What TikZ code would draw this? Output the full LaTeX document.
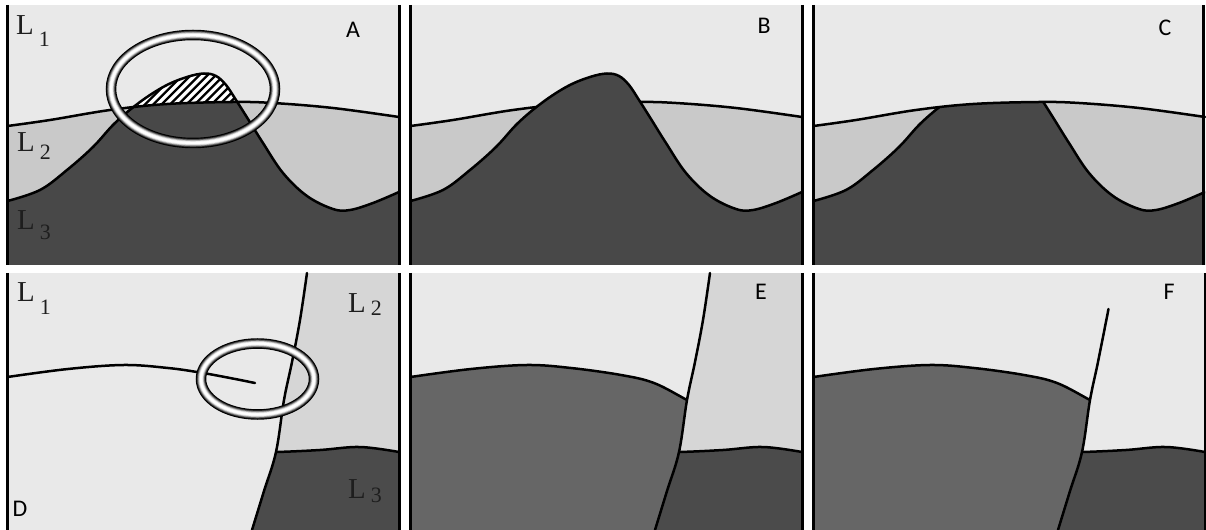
\documentclass[tikz,border=0pt]{standalone}
\usepackage{fontspec}
\setmainfont{Liberation Serif}
\newfontfamily\panelfont{Carlito}

\definecolor{upper}{HTML}{E9E9E9}
\definecolor{midtop}{HTML}{C9C9C9}
\definecolor{midbot}{HTML}{D6D6D6}
\definecolor{deep}{HTML}{484848}
\definecolor{deepbot}{HTML}{4B4B4B}
\definecolor{tilted}{HTML}{666666}
\definecolor{ink}{HTML}{1E1E1E}

% layer name with a lowered index
\newcommand\Lsub[2]{\fontsize{29}{29}\selectfont L\kern5bp\raisebox{-#2}{\fontsize{22}{22}\selectfont #1}}

% boundaries of the upper row (panel A frame)
\newcommand\pathUpper{plot[smooth,tension=0.6] coordinates {(7.5,126) (50,120) (110,110) (167,104) (233,102) (273,103) (333,108) (399,117)}}
\newcommand\pathHill{plot[smooth,tension=0.6] coordinates {(7.5,201) (40,190) (67,170) (93,147) (115,123) (140,102) (165,86) (187,77) (204,73.5) (216,76) (226,85) (236,100) (248,119) (263,143) (283,173) (307,196) (333,209) (350,210) (373,203) (399,192)}}

% boundaries of the lower row (panel D frame)
\newcommand\pathFault{plot[smooth,tension=0.6] coordinates {(307,273) (300,320) (292,362) (284,400) (276,452) (264,491) (252,530)}}
\newcommand\pathFaultShort{plot[smooth,tension=0.6] coordinates {(302.5,309) (292,362) (284,400) (276,452) (264,491) (252,530)}}
\newcommand\pathBed{plot[smooth,tension=0.6] coordinates {(7.5,377) (68,369) (124,365) (168,368) (218,375) (251,383) (284,400) (300,408)}}
\newcommand\pathBedCut{plot[smooth,tension=0.6] coordinates {(7.5,377) (68,369) (124,365) (168,368) (200,372.5) (230,378) (255,383)}}
\newcommand\pathBase{plot[smooth,tension=0.6] coordinates {(240,452) (276,452) (320,450) (360,447) (399,452)}}

% a shaded ring drawn as nested strokes
\newcommand\tube[3]{%
  \foreach \tw/\tc in {10.5/black,8.2/black!78,6.6/black!50,5/black!22,3.4/black!5,2/white}
    \draw[line width=\tw bp, draw=\tc] (#1) ellipse (#2 and #3);}

\begin{document}
\begin{tikzpicture}[x=1bp,y=-1bp,
  bound/.style={line width=2.5bp, line join=round, line cap=round},
  frame/.style={line width=3bp},
  lay/.style={anchor=base west, inner sep=0pt, text=ink},
  tag/.style={font=\panelfont\fontsize{24}{24}\selectfont, inner sep=0pt, anchor=center}]

\useasboundingbox[fill=white] (0,0) rectangle (1206,530);

% ---------- panel A ----------
\begin{scope}
  \fill[upper] (7.5,5) rectangle (399,265);
  \fill[midtop] \pathUpper -- (399,265) -- (7.5,265) -- cycle;
  \begin{scope}
    \clip \pathUpper -- (399,265) -- (7.5,265) -- cycle;
    \fill[deep] \pathHill -- (399,265) -- (7.5,265) -- cycle;
  \end{scope}
  \begin{scope}
    \clip \pathUpper -- (399,5) -- (7.5,5) -- cycle;
    \clip \pathHill -- (399,265) -- (7.5,265) -- cycle;
    \fill[white] (7.5,5) rectangle (399,265);
    \foreach \k in {0,...,22}
      \draw[line width=2.3bp] (90+8.3*\k,118) -- ++(55,-55);
  \end{scope}
  \draw[bound] \pathUpper;
  \draw[bound] \pathHill;
  \coordinate (ringA) at (193,89);
  \tube{ringA}{82bp}{54bp}
  \draw[frame] (7.5,5) -- (7.5,265) (399,5) -- (399,265);
  \node[lay] (labL1a) at (16,35) {\Lsub{1}{12bp}};
  \node[lay] (labL2a) at (17,152) {\Lsub{2}{8bp}};
  \node[lay] (labL3a) at (17,230) {\Lsub{3}{10bp}};
  \node[tag] (tagA) at (353,29.5) {A};
\end{scope}

% ---------- panel B ----------
\begin{scope}[shift={(403,0)}]
  \fill[upper] (7.5,5) rectangle (399,265);
  \fill[midtop] \pathUpper -- (399,265) -- (7.5,265) -- cycle;
  \draw[bound] \pathUpper;
  \fill[deep] \pathHill -- (399,265) -- (7.5,265) -- cycle;
  \draw[bound] \pathHill;
  \draw[frame] (7.5,5) -- (7.5,265) (399,5) -- (399,265);
  \node[tag] (tagB) at (361,26) {B};
\end{scope}

% ---------- panel C ----------
\begin{scope}[shift={(806,0)}]
  \fill[upper] (7.5,5) rectangle (398,265);
  \fill[midtop] \pathUpper -- (399,265) -- (7.5,265) -- cycle;
  \begin{scope}
    \clip \pathUpper -- (399,265) -- (7.5,265) -- cycle;
    \fill[deep] \pathHill -- (399,265) -- (7.5,265) -- cycle;
    \draw[bound] \pathHill;
  \end{scope}
  \draw[bound] \pathUpper;
  \draw[frame] (7.5,5) -- (7.5,265) (397.5,5) -- (397.5,265);
  \node[tag] (tagC) at (359,28) {C};
\end{scope}

% ---------- panel D ----------
\begin{scope}
  \fill[upper] (7.5,273) rectangle (399,530);
  \begin{scope}
    \clip \pathFault -- (399,530) -- (399,273) -- cycle;
    \fill[midbot] (200,273) rectangle (399,530);
    \fill[deepbot] \pathBase -- (399,530) -- (240,530) -- cycle;
    \draw[bound] \pathBase;
  \end{scope}
  \draw[bound] \pathFault;
  \draw[bound] \pathBedCut;
  \coordinate (ringD) at (257.5,379);
  \tube{ringD}{56.5bp}{35.5bp}
  \draw[frame] (7.5,273) -- (7.5,530) (399,273) -- (399,530);
  \node[lay] (labL1d) at (17,302) {\Lsub{1}{13bp}};
  \node[lay] (labL2d) at (348,313) {\Lsub{2}{3bp}};
  \node[lay] (labL3d) at (348,498) {\Lsub{3}{4bp}};
  \node[tag] (tagD) at (20,509) {D};
\end{scope}

% ---------- panel E ----------
\begin{scope}[shift={(403,0)}]
  \fill[upper] (7.5,273) rectangle (399,530);
  \begin{scope}
    \clip \pathFault -- (7.5,530) -- (7.5,273) -- cycle;
    \fill[tilted] \pathBed -- (310,530) -- (7.5,530) -- cycle;
    \draw[bound] \pathBed;
  \end{scope}
  \begin{scope}
    \clip \pathFault -- (399,530) -- (399,273) -- cycle;
    \fill[midbot] (200,273) rectangle (399,530);
    \fill[deepbot] \pathBase -- (399,530) -- (240,530) -- cycle;
    \draw[bound] \pathBase;
  \end{scope}
  \draw[bound] \pathFault;
  \draw[frame] (7.5,273) -- (7.5,530) (399,273) -- (399,530);
  \node[tag] (tagE) at (358,292) {E};
\end{scope}

% ---------- panel F ----------
\begin{scope}[shift={(806,0)}]
  \fill[upper] (7.5,273) rectangle (399,530);
  \begin{scope}
    \clip \pathFault -- (7.5,530) -- (7.5,273) -- cycle;
    \fill[tilted] \pathBed -- (310,530) -- (7.5,530) -- cycle;
    \draw[bound] \pathBed;
  \end{scope}
  \begin{scope}
    \clip \pathFault -- (399,530) -- (399,273) -- cycle;
    \fill[deepbot] \pathBase -- (399,530) -- (240,530) -- cycle;
    \draw[bound] \pathBase;
  \end{scope}
  \draw[bound] \pathFaultShort;
  \draw[frame] (7.5,273) -- (7.5,530) (399,273) -- (399,530);
  \node[tag] (tagF) at (363,292) {F};
\end{scope}

\end{tikzpicture}
\end{document}
